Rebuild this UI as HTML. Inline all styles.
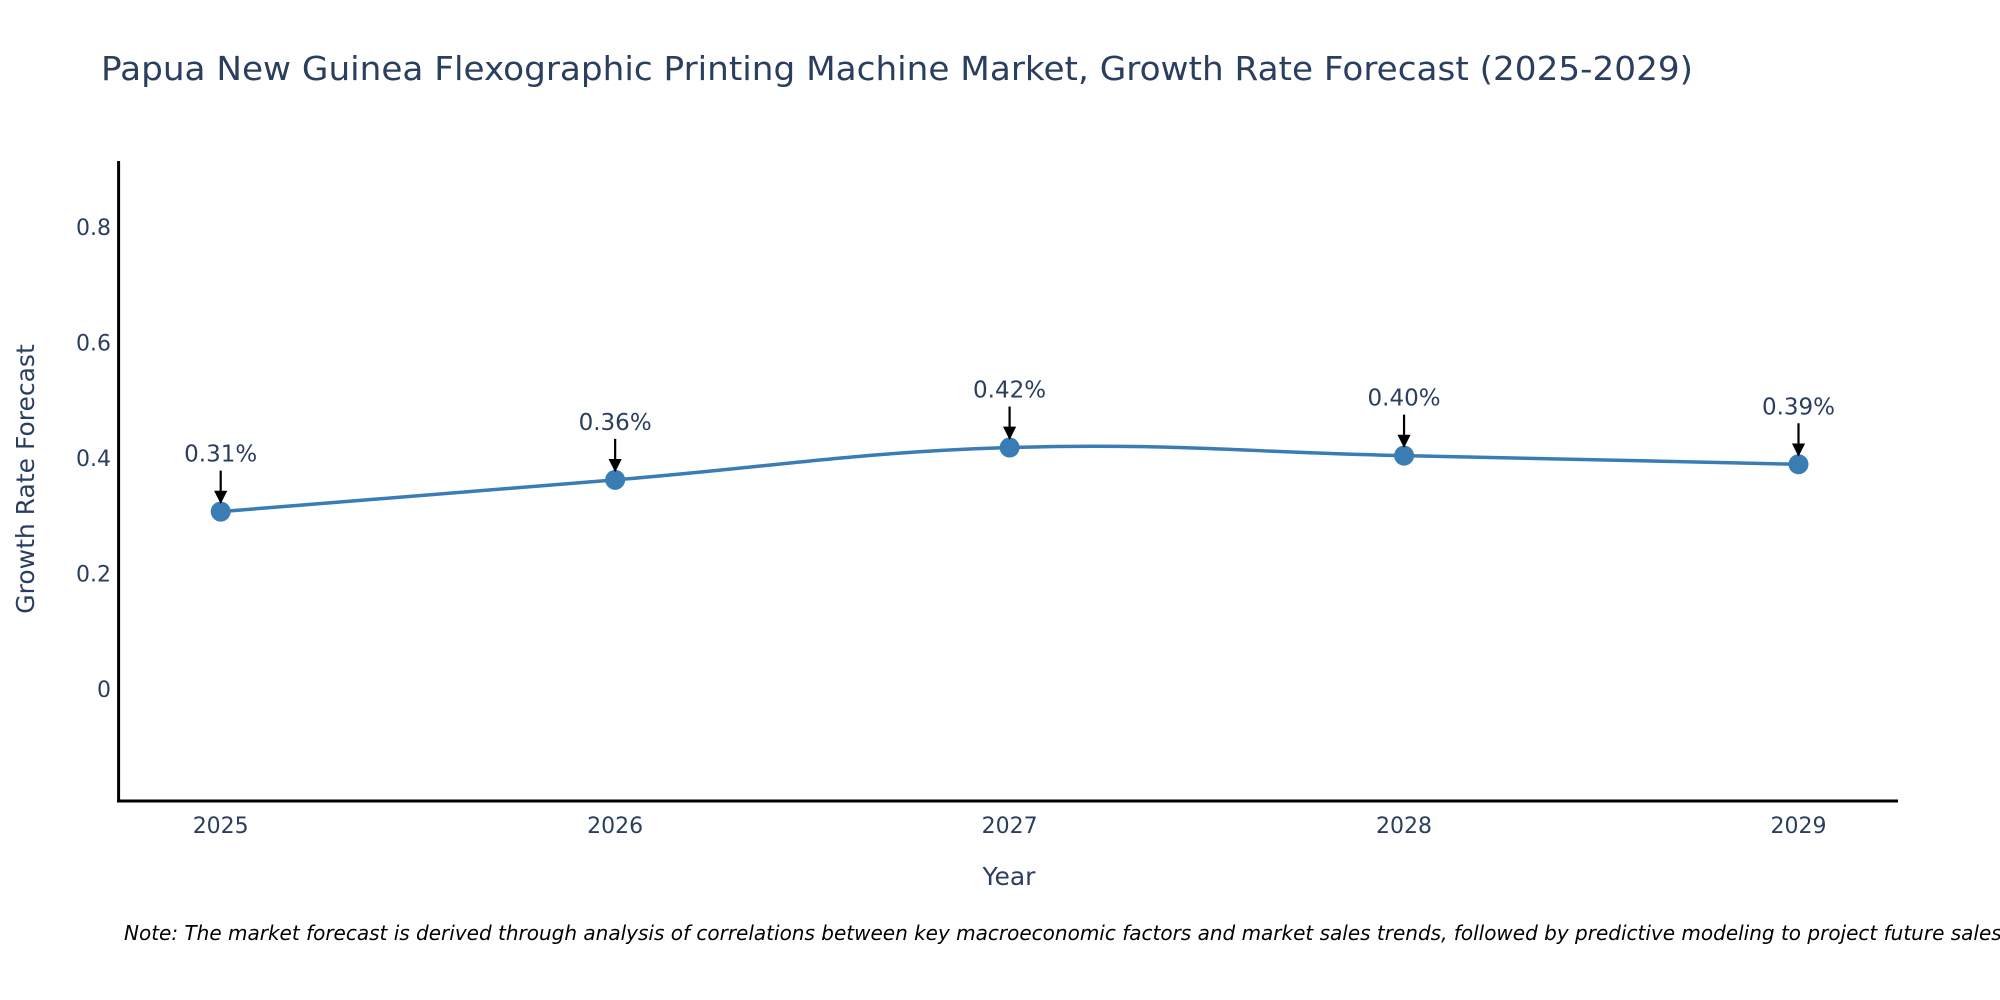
<!DOCTYPE html>
<html><head><meta charset="utf-8"><style>
html,body{margin:0;padding:0;background:#fff;}
svg{display:block;font-family:"DejaVu Sans","Liberation Sans",sans-serif;}
</style></head><body>
<svg id="chart" width="2000" height="1000" viewBox="0 0 2000 1000">
<defs><marker id="ah" viewBox="0 0 10 10" refX="9" refY="5" markerWidth="6" markerHeight="6" orient="auto"><path d="M0,0L10,5L0,10z" fill="#000"/></marker></defs>
<text x="101" y="80" font-size="33" fill="#2a3f5f" textLength="1592" lengthAdjust="spacingAndGlyphs">Papua New Guinea Flexographic Printing Machine Market, Growth Rate Forecast (2025-2029)</text>
<g id="yticks"></g><g id="xticks"></g>
<line x1="118.6" y1="161" x2="118.6" y2="801" stroke="#000" stroke-width="3"/>
<line x1="117" y1="801" x2="1898" y2="801" stroke="#000" stroke-width="3"/>
<text transform="translate(34,479) rotate(-90)" text-anchor="middle" font-size="25" fill="#2a3f5f">Growth Rate Forecast</text>
<text x="1009" y="885" text-anchor="middle" font-size="25" fill="#2a3f5f">Year</text>
<g id="series"></g><g id="annots"></g>
<text x="124" y="940" font-size="20" font-style="italic" fill="#000">Note: The market forecast is derived through analysis of correlations between key macroeconomic factors and market sales trends, followed by predictive modeling to project future sales.</text>
</svg>
<script>
const years = [2025, 2026, 2027, 2028, 2029];
const growthValues = [0.307, 0.362, 0.418, 0.404, 0.389];
const valueLabels = ["0.31%", "0.36%", "0.42%", "0.40%", "0.39%"];
const yTickValues = [0, 0.2, 0.4, 0.6, 0.8];
const yTickLabels = ["0", "0.2", "0.4", "0.6", "0.8"];

const NS = "http://www.w3.org/2000/svg";
const xScale = v => 220.7 + (v - 2025) * 394.45;
const yScale = v => 688.8 - v * 577.2;
function mk(tag, attrs, parent, txt) {
  const e = document.createElementNS(NS, tag);
  for (const k in attrs) e.setAttribute(k, attrs[k]);
  if (txt !== undefined) e.textContent = txt;
  parent.appendChild(e); return e;
}
const yt = document.getElementById('yticks');
yTickValues.forEach((v, i) => {
  const t = mk('text', {x: 111, y: yScale(v) + 8, 'text-anchor': 'end', 'font-size': 22, fill: '#2a3f5f'}, yt, yTickLabels[i]);
  
  
});
const xt = document.getElementById('xticks');
years.forEach(y => {
  const t = mk('text', {x: xScale(y), y: 833, 'text-anchor': 'middle', 'font-size': 22, fill: '#2a3f5f'}, xt, String(y));
  
  
});
const pts = years.map((y, i) => [xScale(y), yScale(growthValues[i])]);
let d = `M${pts[0][0]},${pts[0][1]}`;
const s = 0.2;
for (let i = 0; i < pts.length - 1; i++) {
  const p0 = pts[Math.max(0, i - 1)], p1 = pts[i], p2 = pts[i + 1], p3 = pts[Math.min(pts.length - 1, i + 2)];
  const c1 = [p1[0] + (p2[0] - p0[0]) * s, p1[1] + (p2[1] - p0[1]) * s];
  const c2 = [p2[0] - (p3[0] - p1[0]) * s, p2[1] - (p3[1] - p1[1]) * s];
  d += ` C${c1[0]},${c1[1]} ${c2[0]},${c2[1]} ${p2[0]},${p2[1]}`;
}
const ser = document.getElementById('series');
const line = mk('path', {d: d, fill: 'none', stroke: '#3a7db4', 'stroke-width': 3.5}, ser);


const an = document.getElementById('annots');
pts.forEach((p, i) => {
  const c = mk('circle', {cx: p[0], cy: p[1], r: 10, fill: '#3a7db4'}, ser);
  
  
  const a = mk('line', {x1: p[0], y1: p[1] - 41, x2: p[0], y2: p[1] - 9, stroke: '#000', 'stroke-width': 2.2, 'marker-end': 'url(#ah)'}, an);
  
  
  const t = mk('text', {x: p[0], y: p[1] - 50, 'text-anchor': 'middle', 'font-size': 23, fill: '#2a3f5f'}, an, valueLabels[i]);
  
  
});
</script>
</body></html>
